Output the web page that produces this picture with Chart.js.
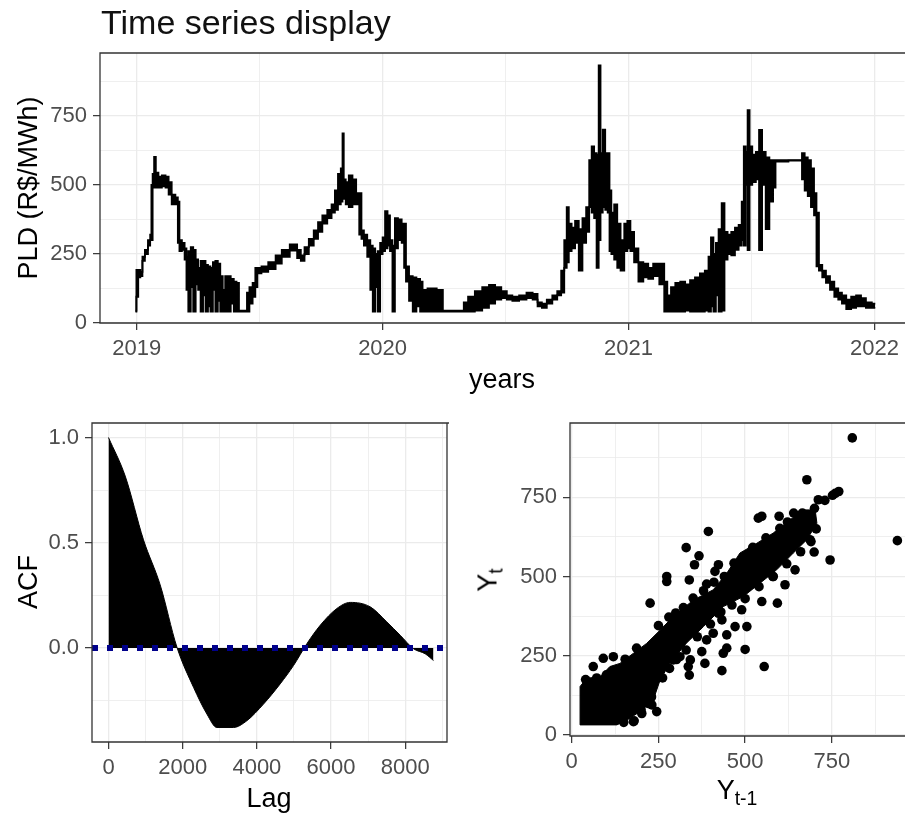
<!DOCTYPE html>
<html>
<head>
<meta charset="utf-8">
<script src="https://cdn.jsdelivr.net/npm/chart.js@4.4.1/dist/chart.umd.min.js"></script>
<style>
  html, body { margin: 0; padding: 0; background: #fff; }
  #page { position: relative; width: 905px; height: 814px; overflow: hidden; font-family: 'Liberation Sans', Arial, sans-serif; }
  canvas { position: absolute; }
  .lbl { position: absolute; line-height: 1; white-space: nowrap; color: #000; }
  .rot { transform: translate(-50%, -50%) rotate(-90deg); }
  .ctr { transform: translateX(-50%); }
  .sub { font-size: 0.72em; position: relative; top: 0.3em; }
</style>
</head>
<body>
<div id="page">
  <canvas id="tsChart" width="905" height="400" style="left:0; top:0"></canvas>
  <canvas id="acfChart" width="460" height="414" style="left:0; top:400px"></canvas>
  <canvas id="lagChart" width="445" height="414" style="left:460px; top:400px"></canvas>

  <div class="lbl" style="left:101px; top:5px; font-size:34px; color:#111;">Time series display</div>
  <div class="lbl rot" style="left:27.5px; top:188px; font-size:27px;">PLD (R$/MWh)</div>
  <div class="lbl ctr" style="left:502px; top:366px; font-size:27px;">years</div>
  <div class="lbl rot" style="left:27.5px; top:582px; font-size:27px;">ACF</div>
  <div class="lbl ctr" style="left:269px; top:785px; font-size:27px;">Lag</div>
  <div class="lbl rot" style="left:488px; top:580px; font-size:27px;">Y<span class="sub">t</span></div>
  <div class="lbl ctr" style="left:737px; top:777px; font-size:27px;">Y<span class="sub">t-1</span></div>
</div>

<script>
// ---- Top panel: PLD per hour, read as band top / band bottom along the year axis
const tsYear = [
  2018.995, 2019.003, 2019.010, 2019.020, 2019.027, 2019.040, 2019.052, 2019.058, 2019.062, 2019.068,
  2019.074, 2019.082, 2019.095, 2019.110, 2019.125, 2019.135, 2019.150, 2019.165, 2019.170, 2019.178,
  2019.190, 2019.200, 2019.205, 2019.215, 2019.225, 2019.235, 2019.245, 2019.255, 2019.265, 2019.275,
  2019.285, 2019.295, 2019.305, 2019.315, 2019.325, 2019.335, 2019.345, 2019.355, 2019.365, 2019.375,
  2019.390, 2019.400, 2019.412, 2019.420, 2019.445, 2019.452, 2019.465, 2019.478, 2019.487, 2019.495,
  2019.520, 2019.550, 2019.580, 2019.600, 2019.645, 2019.660, 2019.675, 2019.690, 2019.710, 2019.730,
  2019.745, 2019.765, 2019.785, 2019.800, 2019.812, 2019.825, 2019.835, 2019.839, 2019.845, 2019.855,
  2019.870, 2019.885, 2019.900, 2019.910, 2019.918, 2019.930, 2019.945, 2019.955, 2019.965, 2019.975,
  2019.985, 2019.995, 2020.005, 2020.015, 2020.025, 2020.035, 2020.045, 2020.055, 2020.070, 2020.085,
  2020.090, 2020.100, 2020.115, 2020.130, 2020.145, 2020.160, 2020.165, 2020.200, 2020.240, 2020.250,
  2020.325, 2020.335, 2020.360, 2020.390, 2020.420, 2020.445, 2020.470, 2020.495, 2020.515, 2020.540,
  2020.570, 2020.600, 2020.620, 2020.640, 2020.655, 2020.680, 2020.700, 2020.720, 2020.732, 2020.745,
  2020.752, 2020.762, 2020.775, 2020.790, 2020.805, 2020.820, 2020.835, 2020.845, 2020.855, 2020.865,
  2020.875, 2020.882, 2020.890, 2020.900, 2020.910, 2020.920, 2020.925, 2020.935, 2020.948, 2020.960,
  2020.975, 2020.990, 2021.000, 2021.015, 2021.030, 2021.050, 2021.070, 2021.090, 2021.110, 2021.140,
  2021.150, 2021.165, 2021.180, 2021.200, 2021.220, 2021.240, 2021.260, 2021.280, 2021.300, 2021.320,
  2021.330, 2021.340, 2021.350, 2021.360, 2021.372, 2021.385, 2021.395, 2021.410, 2021.425, 2021.440,
  2021.455, 2021.465, 2021.472, 2021.480, 2021.488, 2021.496, 2021.510, 2021.525, 2021.536, 2021.550,
  2021.565, 2021.580, 2021.595, 2021.600, 2021.700, 2021.710, 2021.722, 2021.735, 2021.748, 2021.760,
  2021.768, 2021.780, 2021.795, 2021.810, 2021.828, 2021.845, 2021.860, 2021.875, 2021.895, 2021.915,
  2021.935, 2021.955, 2021.975, 2022.003
];
const tsHigh = [
  45, 192, 192, 185, 240, 265, 300, 320, 500, 540,
  602, 545, 530, 535, 530, 510, 465, 455, 440, 300,
  290, 270, 240, 260, 275, 265, 230, 200, 225, 225,
  210, 205, 200, 220, 225, 215, 170, 120, 170, 170,
  160, 150, 145, 45, 45, 110, 130, 145, 200, 200,
  205, 220, 245, 265, 285, 265, 245, 275, 305, 335,
  365, 390, 410, 430, 480, 540, 560, 687, 520, 510,
  535, 520, 470, 470, 335, 320, 300, 280, 270, 250,
  260, 290, 310, 405, 390, 300, 280, 380, 375, 360,
  360, 205, 170, 165, 160, 150, 120, 125, 120, 45,
  45, 75, 95, 115, 130, 138, 130, 115, 100, 95,
  100, 110, 105, 75, 70, 85, 100, 115, 190, 300,
  420, 360, 345, 370, 340, 380, 420, 590, 640, 615,
  610, 933, 615, 700, 615, 615, 480, 400, 430, 360,
  300, 360, 370, 330, 270, 220, 215, 200, 215, 215,
  150, 100, 130, 145, 150, 140, 155, 165, 180, 190,
  240, 310, 250, 290, 340, 434, 330, 320, 330, 345,
  355, 440, 640, 620, 771, 640, 610, 620, 699, 620,
  600, 590, 590, 590, 590, 615, 600, 590, 560, 470,
  400, 210, 190, 170, 150, 125, 110, 100, 85, 95,
  100, 90, 75, 70
];
const tsLow = [
  41, 95, 165, 170, 225, 250, 280, 300, 300, 490,
  495, 490, 490, 495, 490, 465, 430, 430, 290, 260,
  265, 230, 120, 41, 130, 41, 140, 120, 41, 100,
  41, 60, 41, 120, 41, 80, 41, 41, 41, 41,
  70, 41, 41, 41, 41, 41, 70, 95, 130, 180,
  185, 195, 215, 240, 262, 235, 225, 250, 280, 305,
  330, 360, 380, 400, 410, 430, 440, 450, 450, 430,
  420, 430, 430, 320, 305, 280, 240, 120, 41, 130,
  41, 250, 260, 270, 280, 260, 41, 270, 300, 290,
  200, 150, 80, 41, 60, 41, 41, 41, 41, 41,
  41, 41, 41, 45, 55, 70, 85, 90, 85, 80,
  85, 90, 85, 60, 55, 70, 85, 100, 110, 200,
  220, 260, 270, 290, 190, 290, 330, 420, 400, 380,
  200, 300, 400, 420, 410, 400, 260, 250, 230, 200,
  190, 260, 270, 260, 220, 150, 165, 160, 170, 140,
  41, 41, 41, 41, 41, 45, 41, 41, 41, 45,
  41, 60, 41, 100, 41, 45, 230, 250, 245, 265,
  280, 300, 280, 500, 264, 500, 510, 520, 264, 500,
  340, 440, 490, 585, 588, 520, 480, 460, 420, 390,
  205, 190, 165, 145, 120, 95, 85, 70, 50, 55,
  60, 60, 55, 55
];
const yearTicks = [2019, 2019.5, 2020, 2020.5, 2021, 2021.5, 2022];
const yearLabels = ['2019', '', '2020', '', '2021', '', '2022'];
const priceTicks = [0, 125, 250, 375, 500, 625, 750, 875];
const priceLabels = ['0', '', '250', '', '500', '', '750', ''];

// ---- Bottom left: autocorrelation by lag
const acfLag = [0, 450, 943, 1393, 1843, 2291, 2652, 2922, 3369, 3730, 4178, 4628,
                4987, 5348, 5706, 6156, 6515, 7054, 7504, 7863, 8222, 8536, 8760];
const acfValue = [1.0, 0.817, 0.514, 0.30, 0.005, -0.186, -0.313, -0.377, -0.377, -0.345, -0.266, -0.170,
                  -0.083, 0.021, 0.108, 0.188, 0.217, 0.196, 0.124, 0.061, -0.003, -0.027, -0.059];
const ciLevel = 0.007;
const lagRange = [-445, 9125];
const lagTicks = [0, 1000, 2000, 3000, 4000, 5000, 6000, 7000, 8000, 9000];
const lagLabels = ['0', '', '2000', '', '4000', '', '6000', '', '8000', ''];
const acfTicks = [-0.25, 0, 0.25, 0.5, 0.75, 1.0];
const acfLabels = ['', '0.0', '', '0.5', '', '1.0'];

// ---- Bottom right: lag plot, Y(t-1) against Y(t)
// solid core of the cloud (outline)
const coreX = [24, 24, 43, 82, 110, 139, 178, 216, 255, 293, 351, 408, 447, 485, 534, 581, 630, 668,
               702, 707, 678, 639, 591, 543, 495, 437, 380, 330, 283, 255, 235, 197, 159, 130, 24];
const coreY = [32, 153, 179, 184, 216, 226, 258, 289, 331, 374, 426, 458, 510, 574, 605, 637, 679, 710,
               710, 668, 616, 574, 521, 479, 437, 405, 342, 289, 226, 174, 110, 74, 47, 32, 32];
// separate points around and away from the core
const lagPrev = [809, 939, 678, 745, 711, 760, 770, 752, 538, 394, 330, 367, 274, 274, 226, 339, 354, 389,
                 413, 423, 687, 699, 615, 581, 644, 548, 593, 500, 555, 433, 384, 336, 339, 447, 437, 447,
                 471, 490, 505, 408, 389, 423, 433, 375, 312, 342, 187, 62, 91, 120, 154, 202, 231, 245,
                 178, 245, 293, 548, 598, 640, 665, 690, 700, 730, 40, 50, 72, 100, 130, 160, 180, 150,
                 200, 220, 230,
                 250, 280, 300, 322, 350, 380, 410, 440, 468, 500, 522, 560, 600, 622,
                 262, 282, 302, 330, 362, 400, 430, 462, 500, 540, 580, 620, 660, 690, 705];
const lagCurr = [937, 613, 805, 552, 742, 762, 768, 756, 684, 642, 591, 565, 500, 484, 416, 489, 537, 476,
                 516, 537, 616, 577, 474, 500, 521, 421, 416, 270, 216, 203, 226, 216, 189, 274, 258, 316,
                 342, 395, 342, 321, 300, 384, 363, 263, 247, 237, 274, 216, 242, 247, 239, 68, 95, 74,
                 42, 179, 237, 690, 690, 700, 700, 690, 715, 740, 175, 165, 180, 190, 200, 215, 45, 40,
                 80, 100, 120,
                 345, 372, 385, 402, 432, 455, 482, 500, 542, 562, 592, 622, 652, 672,
                 180, 210, 238, 268, 310, 350, 388, 410, 430, 468, 500, 540, 578, 610, 650];
const valueTicks = [0, 125, 250, 375, 500, 625, 750, 875];
const valueLabels = ['0', '', '250', '', '500', '', '750', ''];

const FONT = "'Liberation Sans', Arial, sans-serif";
const TICK_GREY = '#4D4D4D';
const GRID = '#EBEBEB';

// panel frame like theme_bw (right side optional, the picture is cut there)
const panelBorder = {
    id: 'panelBorder',
    afterDatasetsDraw(chart, args, opts) {
        const { ctx, chartArea: a } = chart;
        ctx.save();
        ctx.strokeStyle = '#333333';
        ctx.lineWidth = 1.3;
        ctx.beginPath();
        ctx.moveTo(a.right + 2, a.top);
        ctx.lineTo(a.left, a.top);
        ctx.lineTo(a.left, a.bottom);
        ctx.lineTo(a.right + (opts.right ? 0 : 2), a.bottom);
        if (opts.right) ctx.lineTo(a.right, a.top);
        ctx.stroke();
        ctx.restore();
    }
};

function axis(ticks, labels, min, max, size, horizontal) {
    return {
        type: 'linear',
        min: min,
        max: max,
        afterBuildTicks: s => { s.ticks = ticks.map(v => ({ value: v })); },
        afterFit: s => { if (horizontal) s.height = size; else s.width = size; },
        grid: {
            color: GRID,
            lineWidth: c => labels[c.index] ? 1.3 : 0.8,
            tickColor: c => labels[c.index] ? '#333333' : 'rgba(0,0,0,0)',
            tickLength: 7,
            tickWidth: 1.2
        },
        border: { display: false },
        ticks: {
            autoSkip: false,
            maxRotation: 0,
            padding: 6,
            color: TICK_GREY,
            font: { family: FONT, size: 22 },
            callback: (v, i) => labels[i]
        }
    };
}

const common = {
    responsive: false,
    animation: false,
    events: [],
    plugins: { legend: { display: false }, tooltip: { enabled: false } }
};

// Top: time series (hourly prices move in blocks, so the band is drawn stepped)
new Chart(document.getElementById('tsChart'), {
    type: 'line',
    data: {
        datasets: [{
            data: tsYear.map((x, i) => ({ x: x, y: tsHigh[i] })),
            borderColor: '#000',
            borderWidth: 1.8,
            pointRadius: 0,
            stepped: 'middle',
            fill: false
        }, {
            data: tsYear.map((x, i) => ({ x: x, y: tsLow[i] })),
            borderColor: '#000',
            borderWidth: 1.8,
            pointRadius: 0,
            stepped: 'middle',
            fill: '-1',
            backgroundColor: '#000'
        }]
    },
    options: Object.assign({}, common, {
        layout: { padding: { left: 30, top: 53, right: 0, bottom: 27 }, autoPadding: false },
        scales: {
            x: axis(yearTicks, yearLabels, 2018.851, 2022.122, 50, true),
            y: axis(priceTicks, priceLabels, 0, 978, 70, false)
        },
        plugins: Object.assign({}, common.plugins, { panelBorder: { right: false } })
    }),
    plugins: [panelBorder]
});

// Bottom left: ACF
new Chart(document.getElementById('acfChart'), {
    type: 'line',
    data: {
        datasets: [{
            data: lagRange.map(x => ({ x: x, y: ciLevel })),
            borderColor: '#00008B',
            borderWidth: 3,
            borderDash: [6, 9],
            pointRadius: 0,
            fill: false,
            order: 0
        }, {
            data: lagRange.map(x => ({ x: x, y: -ciLevel })),
            borderColor: '#00008B',
            borderWidth: 3,
            borderDash: [6, 9],
            pointRadius: 0,
            fill: false,
            order: 0
        }, {
            data: acfLag.map((x, i) => ({ x: x, y: acfValue[i] })),
            borderColor: '#000',
            borderWidth: 1,
            pointRadius: 0,
            cubicInterpolationMode: 'monotone',
            fill: 'origin',
            backgroundColor: '#000',
            order: 1
        }]
    },
    options: Object.assign({}, common, {
        layout: { padding: { left: 32, top: 23, right: 13, bottom: 22 }, autoPadding: false },
        scales: {
            x: axis(lagTicks, lagLabels, lagRange[0], lagRange[1], 50, true),
            y: axis(acfTicks, acfLabels, -0.446, 1.069, 60, false)
        },
        plugins: Object.assign({}, common.plugins, { panelBorder: { right: true } })
    }),
    plugins: [panelBorder]
});

// Bottom right: lag plot
new Chart(document.getElementById('lagChart'), {
    type: 'scatter',
    data: {
        datasets: [{
            type: 'line',
            data: coreX.map((x, i) => ({ x: x, y: coreY[i] })),
            borderColor: '#000',
            borderWidth: 1,
            backgroundColor: '#000',
            pointRadius: 0,
            tension: 0,
            fill: 'shape'
        }, {
            data: lagPrev.map((x, i) => ({ x: x, y: lagCurr[i] })),
            backgroundColor: '#000',
            borderWidth: 0,
            pointRadius: 4.8
        }]
    },
    options: Object.assign({}, common, {
        layout: { padding: { left: 50, top: 23, right: 0, bottom: 28 }, autoPadding: false },
        scales: {
            x: axis(valueTicks, valueLabels, -5, 961, 50, true),
            y: axis(valueTicks, valueLabels, -3, 984, 60, false)
        },
        plugins: Object.assign({}, common.plugins, { panelBorder: { right: false } })
    }),
    plugins: [panelBorder]
});
</script>
</body>
</html>
